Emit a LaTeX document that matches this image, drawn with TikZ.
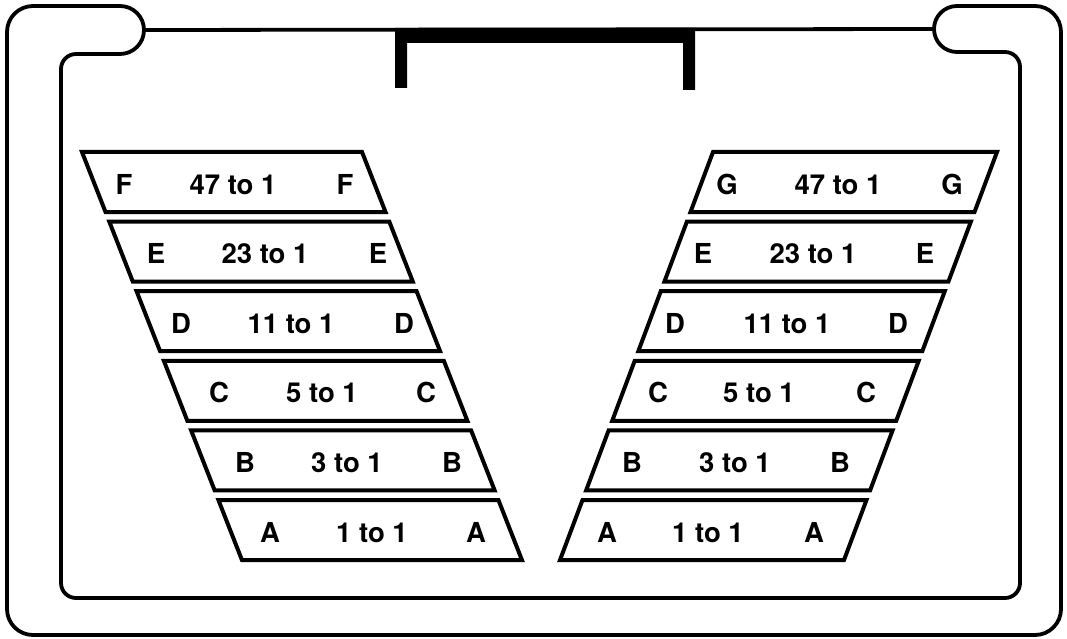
\documentclass[tikz,border=0pt]{standalone}
\usepackage{fontspec}
\setmainfont{TeX Gyre Heros}
\begin{document}
\begin{tikzpicture}[x=1pt,y=-1pt,
  frame/.style={line width=3.8pt, line cap=round, line join=round},
  gearbox/.style={line width=4pt, line join=miter},
  lbl/.style={font=\fontsize{27.5}{32}\selectfont\bfseries, inner sep=0pt, anchor=base}]
\useasboundingbox (0,0) rectangle (1067,639);
% outer frame
\draw[frame, rounded corners=26] (120,6) -- (7,6) -- (7,635) -- (1061,635) -- (1061,6) -- (957,6);
\draw[frame] (120,6) arc[start angle=-90, end angle=90, radius=24];
\draw[frame] (957,52) arc[start angle=90, end angle=270, radius=23];
\draw[frame] (144,30) -- (934,29);
% inner frame
\draw[frame, rounded corners=15] (120,54) -- (61,54) -- (61,598) -- (1020,598) -- (1020,52) -- (957,52);
% thick bracket
\fill (395,28) -- (695,28) -- (695,90) -- (683,90) -- (683,43) -- (407,43) -- (407,88) -- (395,88) -- cycle;
% left column
\foreach \i/\n/\rat/\xa/\xm/\xc in {0/F/47/124/233/345, 1/E/23/156/265/378, 2/D/11/181/291/404, 3/C/5/219/322/426, 4/B/3/245/347/452, 5/A/1/270/372/476}{
  \pgfmathsetmacro\yt{152+69.6*\i}
  \pgfmathsetmacro\yb{\yt+60}
  \pgfmathsetmacro\xt{82+0.392*(\yt-152)}
  \pgfmathsetmacro\xb{82+0.392*(\yb-152)}
  \pgfmathsetmacro\yl{\yt+42}
  \draw[gearbox] (\xt,\yt) -- ++(280,0) -- (\xb+280,\yb) -- (\xb,\yb) -- cycle;
  \node[lbl] (L\i a) at (\xa,\yl) {\n};
  \node[lbl] (L\i m) at (\xm,\yl) {\rat\ to 1};
  \node[lbl] (L\i c) at (\xc,\yl) {\n};
}
% right column
\foreach \i/\n/\rat/\xa/\xm/\xc in {0/G/47/727/838/952, 1/E/23/703/813/925, 2/D/11/675/787/898, 3/C/5/658/759/866, 4/B/3/632/735/840, 5/A/1/607/708/814}{
  \pgfmathsetmacro\yt{152+69.6*\i}
  \pgfmathsetmacro\yb{\yt+60}
  \pgfmathsetmacro\xt{713-0.375*(\yt-152)}
  \pgfmathsetmacro\xb{713-0.375*(\yb-152)}
  \pgfmathsetmacro\yl{\yt+42}
  \draw[gearbox] (\xt,\yt) -- ++(284,0) -- (\xb+284,\yb) -- (\xb,\yb) -- cycle;
  \node[lbl] (R\i a) at (\xa,\yl) {\n};
  \node[lbl] (R\i m) at (\xm,\yl) {\rat\ to 1};
  \node[lbl] (R\i c) at (\xc,\yl) {\n};
}
\end{tikzpicture}
\end{document}
